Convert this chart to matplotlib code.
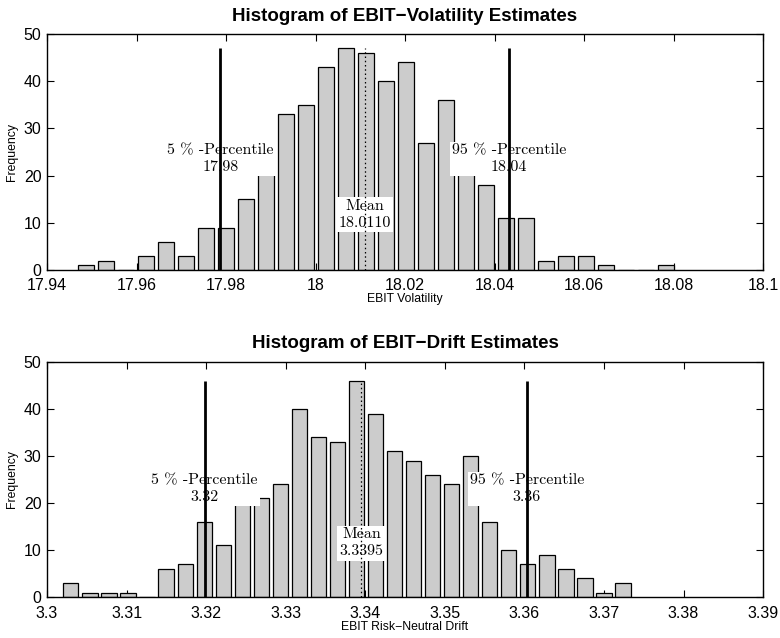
import numpy as np
import matplotlib
matplotlib.use("Agg")
import matplotlib.pyplot as plt
from matplotlib.ticker import FuncFormatter

plt.rcParams['font.family'] = ['Liberation Sans', 'DejaVu Sans']

# --- data ---
vol_counts = [1, 2, 0, 3, 6, 3, 9, 9, 15, 24, 33, 35, 43, 47, 46,
              40, 44, 27, 36, 27, 18, 11, 11, 2, 3, 3, 1, 0, 0, 1]
vol_range = (17.9464, 18.0805)
vol_p5, vol_p95, vol_mean = 17.9787, 18.0432, 18.0110
vol_ticks = [17.94, 17.96, 17.98, 18.0, 18.02, 18.04, 18.06, 18.08, 18.1]

drift_counts = [3, 1, 1, 1, 0, 6, 7, 16, 11, 21, 21, 24, 40, 34, 33,
                46, 39, 31, 29, 26, 24, 30, 16, 10, 7, 9, 6, 4, 1, 3]
drift_range = (3.3018, 3.3736)
drift_p5, drift_p95, drift_mean = 3.3198, 3.3603, 3.3395
drift_ticks = [3.3, 3.31, 3.32, 3.33, 3.34, 3.35, 3.36, 3.37, 3.38, 3.39]

y_ticks = [0, 10, 20, 30, 40, 50]

serif = ['cmr10', 'DejaVu Serif']


def note(ax, x, y, s):
    # white box under the lines, text on top
    kw = dict(ha='center', va='center', fontsize=11.5, family=serif, linespacing=1.3)
    ax.text(x, y, s, color='none', zorder=3,
            bbox=dict(facecolor='white', edgecolor='none', pad=1.5), **kw)
    ax.text(x, y, s, color='black', zorder=6, **kw)


def panel(ax, counts, rng, p5, p95, mean, ticks, title, xlabel, p5_txt, p95_txt, mean_txt):
    counts = np.array(counts)
    edges = np.linspace(rng[0], rng[1], len(counts) + 1)
    centers = (edges[:-1] + edges[1:]) / 2
    w = edges[1] - edges[0]
    ax.bar(centers, counts, width=0.8 * w, color='#cccccc', edgecolor='black',
           linewidth=0.9, zorder=2)
    top = counts.max()
    ax.vlines([p5, p95], 0, top, colors='black', linewidth=2.0, zorder=4)
    ax.vlines(mean, 0, top, colors='black', linewidth=0.9, linestyles=(0, (1.2, 2.2)), zorder=4)
    note(ax, p5, top / 2, '5 % -Percentile\n' + p5_txt)
    note(ax, p95, top / 2, '95 % -Percentile\n' + p95_txt)
    note(ax, mean, top / 4, 'Mean\n' + mean_txt)

    ax.set_xlim(ticks[0], ticks[-1])
    ax.set_ylim(0, 50)
    ax.set_xticks(ticks)
    ax.set_yticks(y_ticks)
    ax.xaxis.set_major_formatter(FuncFormatter(lambda v, p: f'{round(v, 4):g}'))
    ax.tick_params(direction='in', top=True, right=True, length=5, width=0.8,
                   labelsize=11.5)
    ax.tick_params(axis='x', pad=6)
    ax.tick_params(axis='y', pad=4)
    for s in ax.spines.values():
        s.set_linewidth(1.0)
    ax.set_title(title, fontsize=13.5, fontweight='bold', pad=9.5)
    ax.set_xlabel(xlabel, fontsize=8.8, labelpad=0)
    ax.set_ylabel('Frequency', fontsize=8.8, labelpad=4)


fig = plt.figure(figsize=(7.8, 6.38), dpi=100)
ax1 = fig.add_axes([0.0603, 0.5768, 0.918, 0.370])
ax2 = fig.add_axes([0.0603, 0.0638, 0.918, 0.3693])

panel(ax1, vol_counts, vol_range, vol_p5, vol_p95, vol_mean, vol_ticks,
      'Histogram of EBIT\u2212Volatility Estimates', 'EBIT Volatility',
      '17.98', '18.04', '18.0110')
panel(ax2, drift_counts, drift_range, drift_p5, drift_p95, drift_mean, drift_ticks,
      'Histogram of EBIT\u2212Drift Estimates', 'EBIT Risk\u2212Neutral Drift',
      '3.32', '3.36', '3.3395')

fig.savefig('out.png', dpi=100)
